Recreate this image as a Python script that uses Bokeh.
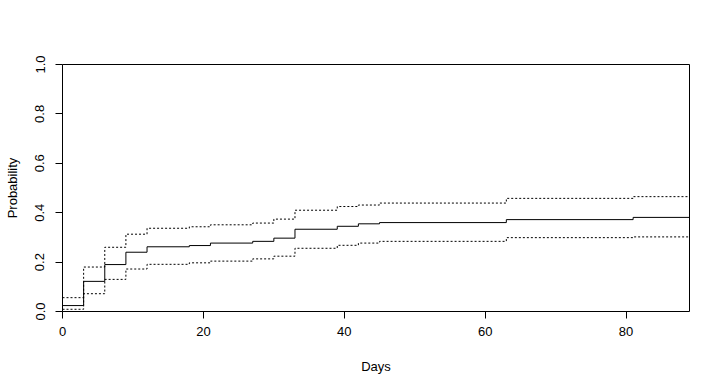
from bokeh.plotting import figure
from bokeh.embed import file_html
from bokeh.resources import INLINE
from bokeh.models import Range1d, FixedTicker, PrintfTickFormatter

# Step times (days) and cumulative incidence estimates with confidence limits
times = [0, 3, 6, 9, 12, 18, 21, 27, 30, 33, 39, 42, 45, 63, 81]
estimate = [0.024, 0.122, 0.190, 0.240, 0.262, 0.267, 0.277, 0.284, 0.297,
            0.333, 0.345, 0.355, 0.360, 0.372, 0.381]
upper = [0.056, 0.180, 0.260, 0.313, 0.337, 0.343, 0.351, 0.358, 0.374,
         0.410, 0.425, 0.431, 0.439, 0.458, 0.465]
lower = [0.009, 0.072, 0.130, 0.172, 0.191, 0.197, 0.204, 0.213, 0.224,
         0.256, 0.268, 0.277, 0.284, 0.299, 0.302]
x_end = 89
x_ticks = [0, 20, 40, 60, 80]
y_ticks = [0.0, 0.2, 0.4, 0.6, 0.8, 1.0]

FONT = "Liberation Sans"

p = figure(width=714, height=377, output_backend="svg", toolbar_location=None,
           x_range=Range1d(0, x_end), y_range=Range1d(0, 1),
           min_border_left=62, min_border_top=64, min_border_right=25,
           min_border_bottom=66)
p.grid.visible = False
p.outline_line_color = "black"
p.outline_line_width = 1
p.background_fill_color = "white"
p.border_fill_color = "white"

xs = times + [x_end]
for vals, dash in ((estimate, "solid"), (upper, "2 2"), (lower, "2 2")):
    p.step(xs, vals + [vals[-1]], mode="after", line_color="black",
           line_width=1, line_dash=dash)

for ax in (p.xaxis[0], p.yaxis[0]):
    ax.axis_line_color = None
    ax.major_tick_out = 7
    ax.major_tick_in = 0
    ax.major_tick_line_color = "black"
    ax.minor_tick_line_color = None
    ax.major_label_text_font = FONT
    ax.major_label_text_font_size = "13px"
    ax.major_label_text_color = "black"
    ax.axis_label_text_font = FONT
    ax.axis_label_text_font_size = "13px"
    ax.axis_label_text_font_style = "normal"
    ax.axis_label_text_color = "black"

p.xaxis.ticker = FixedTicker(ticks=x_ticks)
p.yaxis.ticker = FixedTicker(ticks=y_ticks)
p.yaxis.formatter = PrintfTickFormatter(format="%.1f")
p.yaxis.major_label_orientation = "vertical"
p.xaxis.axis_label = "Days"
p.yaxis.axis_label = "Probability"
p.xaxis.major_label_standoff = 8
p.yaxis.major_label_standoff = 11
p.xaxis.axis_label_standoff = 20
p.yaxis.axis_label_standoff = 13

open("out.html", "w").write(file_html(p, INLINE))
